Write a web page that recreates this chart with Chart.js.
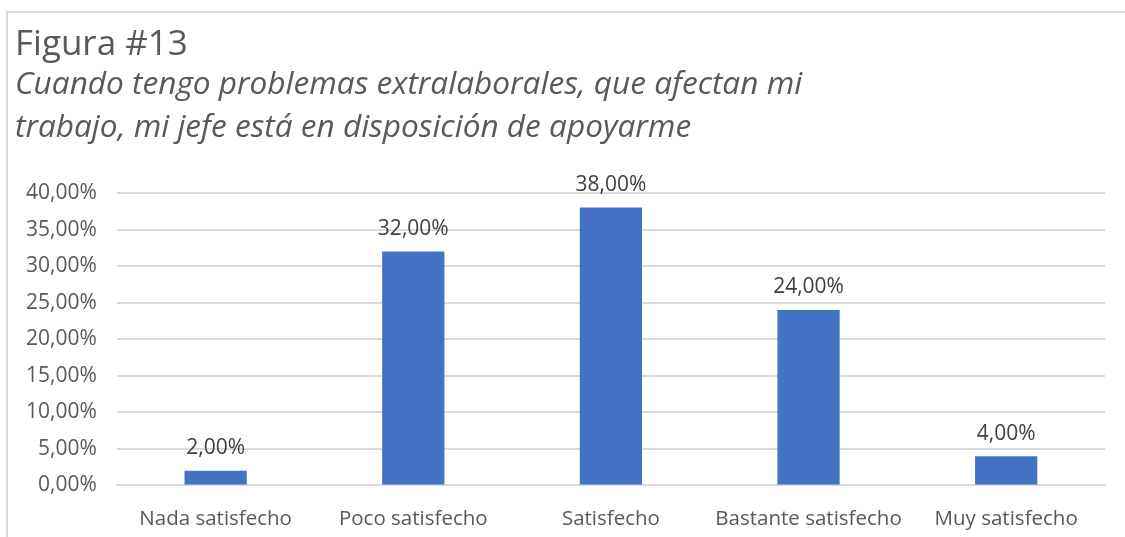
<!DOCTYPE html>
<html>
<head>
<meta charset="utf-8">
<script src="https://cdn.jsdelivr.net/npm/chart.js@4"></script>
<style>
  html, body { margin: 0; padding: 0; background: #fff; }
  #wrap { position: relative; width: 1125px; height: 537px; overflow: hidden; }
  #frame { position: absolute; left: 6px; top: 11px; width: 1200px; height: 600px; border: 2px solid #d9d9d9; box-sizing: border-box; }
  canvas { position: absolute; left: 0; top: 0; }
</style>
</head>
<body>
<div id="wrap">
  <div id="frame"></div>
  <canvas id="chart" width="1125" height="537"></canvas>
</div>
<script>
const categories = ['Nada satisfecho', 'Poco satisfecho', 'Satisfecho', 'Bastante satisfecho', 'Muy satisfecho'];
const values = [2, 32, 38, 24, 4];
const titleText = 'Figura #13';
const subtitleLines = ['Cuando tengo problemas extralaborales, que afectan mi', 'trabajo, mi jefe está en disposición de apoyarme'];

const fmt = v => v.toFixed(2).replace('.', ',') + '%';
const fontFamily = '"Open Sans", "Liberation Sans", sans-serif';

// title block drawn at the top left, Excel style
const titleBlock = {
  id: 'titleBlock',
  afterDraw(chart) {
    const ctx = chart.ctx;
    ctx.save();
    ctx.fillStyle = '#595959';
    ctx.textAlign = 'left';
    ctx.textBaseline = 'alphabetic';
    ctx.font = '35px ' + fontFamily;
    ctx.fillText(titleText, 15, 55);
    ctx.font = 'italic 31.6px ' + fontFamily;
    subtitleLines.forEach((line, i) => ctx.fillText(line, 15, 94 + i * 43));
    ctx.restore();
  }
};

// labels above bars
const barLabels = {
  id: 'barLabels',
  afterDatasetsDraw(chart) {
    const ctx = chart.ctx;
    const meta = chart.getDatasetMeta(0);
    ctx.save();
    ctx.font = '21px ' + fontFamily;
    ctx.fillStyle = '#404040';
    ctx.textAlign = 'center';
    ctx.textBaseline = 'bottom';
    meta.data.forEach((bar, i) => {
      ctx.fillText(fmt(values[i]), bar.x, bar.y - 12);
    });
    ctx.restore();
  }
};

Chart.defaults.font.family = fontFamily;

const ctx = document.getElementById('chart').getContext('2d');
new Chart(ctx, {
  type: 'bar',
  data: {
    labels: categories,
    datasets: [{
      data: values,
      backgroundColor: '#4472C4',
      barPercentage: 0.315,
      categoryPercentage: 1
    }]
  },
  options: {
    responsive: false,
    animation: false,
    layout: { padding: { top: 193, left: 6, right: 20, bottom: -15 } },
    plugins: {
      legend: { display: false },
      tooltip: { enabled: false },
      title: { display: false }
    },
    scales: {
      x: {
        grid: { display: false, drawTicks: false },
        border: { color: '#d9d9d9', width: 2 },
        ticks: { color: '#595959', font: { size: 20.5 }, padding: 21, maxRotation: 0, autoSkip: false }
      },
      y: {
        min: 0, max: 40,
        grid: { color: '#d9d9d9', lineWidth: 2, drawTicks: false },
        border: { display: false },
        ticks: { stepSize: 5, color: '#595959', font: { size: 21 }, padding: 20, callback: v => fmt(v) }
      }
    }
  },
  plugins: [barLabels, titleBlock]
});
</script>
</body>
</html>
